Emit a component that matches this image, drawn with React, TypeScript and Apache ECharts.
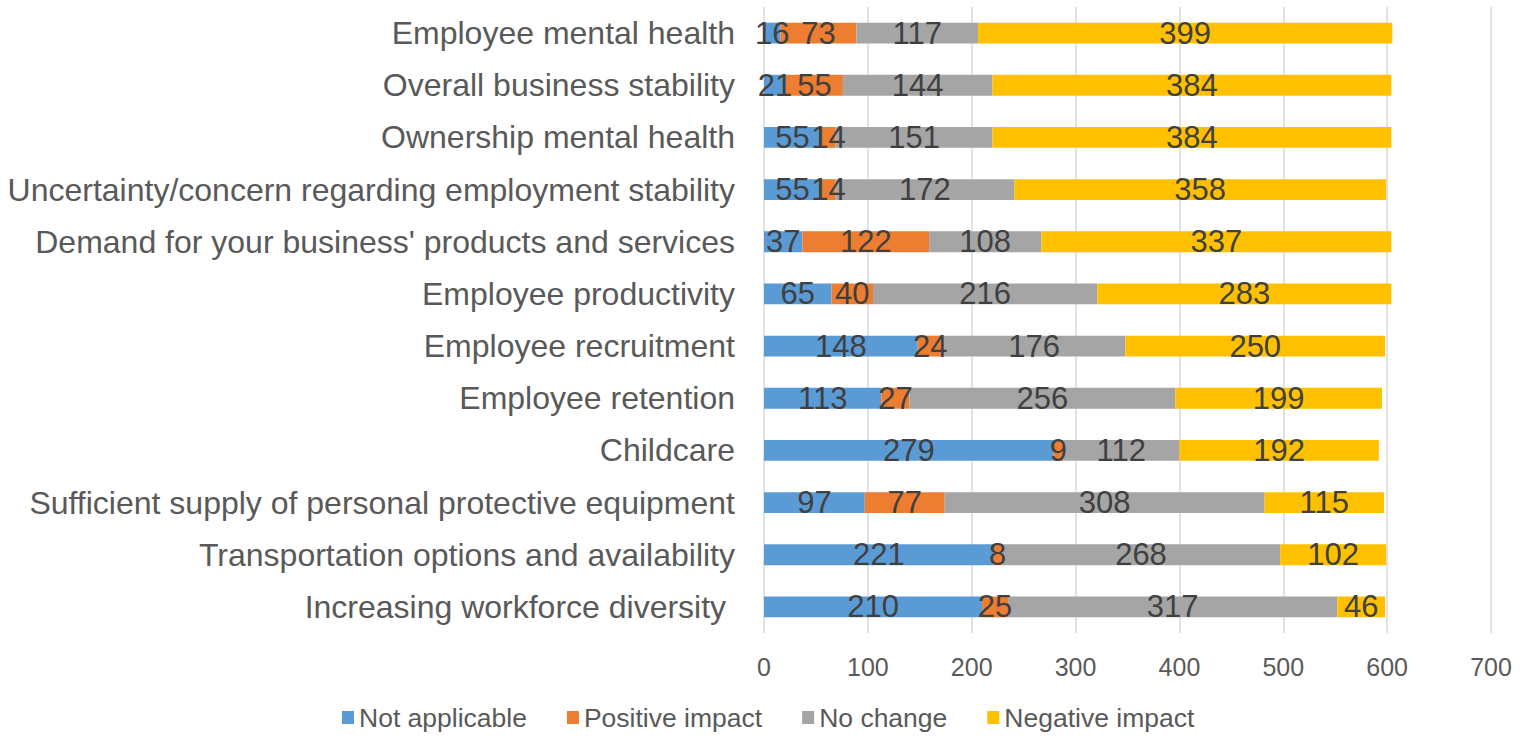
import React, { useEffect, useRef } from "react";
import * as echarts from "echarts";

const categories = [
  "Employee mental health",
  "Overall business stability",
  "Ownership mental health",
  "Uncertainty/concern regarding employment stability",
  "Demand for your business' products and services",
  "Employee productivity",
  "Employee recruitment",
  "Employee retention",
  "Childcare",
  "Sufficient supply of personal protective equipment",
  "Transportation options and availability",
  "Increasing workforce diversity ",
];

const notApplicable = [16, 21, 55, 55, 37, 65, 148, 113, 279, 97, 221, 210];
const positiveImpact = [73, 55, 14, 14, 122, 40, 24, 27, 9, 77, 8, 25];
const noChange = [117, 144, 151, 172, 108, 216, 176, 256, 112, 308, 268, 317];
const negativeImpact = [399, 384, 384, 358, 337, 283, 250, 199, 192, 115, 102, 46];

const seriesNames = ["Not applicable", "Positive impact", "No change", "Negative impact"];
const seriesColors = ["#5B9BD5", "#ED7D31", "#A5A5A5", "#FFC000"];
const xTicks = { min: 0, max: 700, interval: 100 };

const FONT = "'Liberation Sans', Arial, sans-serif";

export default function App() {
  const ref = useRef<HTMLDivElement>(null);
  useEffect(() => {
    if (!ref.current) return;
    const chart = echarts.init(ref.current, undefined, { renderer: "svg" });
    const values = [notApplicable, positiveImpact, noChange, negativeImpact];
    chart.setOption({
      animation: false,
      backgroundColor: "#ffffff",
      textStyle: { fontFamily: FONT },
      grid: { left: 764, right: 37, top: 7, bottom: 103, containLabel: false },
      legend: {
        left: 342,
        top: 704,
        padding: 0,
        itemWidth: 12,
        itemHeight: 13,
        itemGap: 40,
        icon: "rect",
        textStyle: { fontSize: 26.5, color: "#595959", fontFamily: FONT },
        data: seriesNames,
      },
      xAxis: {
        type: "value",
        min: xTicks.min,
        max: xTicks.max,
        interval: xTicks.interval,
        axisLine: { show: false },
        axisTick: { show: false },
        splitLine: { show: true, lineStyle: { color: "#D9D9D9", width: 1.5 } },
        axisLabel: { fontSize: 25, color: "#595959", margin: 21, fontFamily: FONT },
      },
      yAxis: {
        type: "category",
        inverse: true,
        data: categories,
        axisLine: { show: false },
        axisTick: { show: false },
        axisLabel: { fontSize: 32, color: "#595959", margin: 29, fontFamily: FONT },
      },
      series: seriesNames.map((name, i) => ({
        name,
        type: "bar",
        stack: "total",
        barCategoryGap: "60%",
        data: values[i],
        itemStyle: { color: seriesColors[i] },
        label: {
          show: true,
          position: "inside",
          fontSize: 31,
          color: "#404040",
          fontFamily: FONT,
        },
      })),
    });
    return () => chart.dispose();
  }, []);
  return (
    <div
      ref={ref}
      style={{ position: "fixed", left: 0, top: 0, width: 1528, height: 736 }}
    />
  );
}
